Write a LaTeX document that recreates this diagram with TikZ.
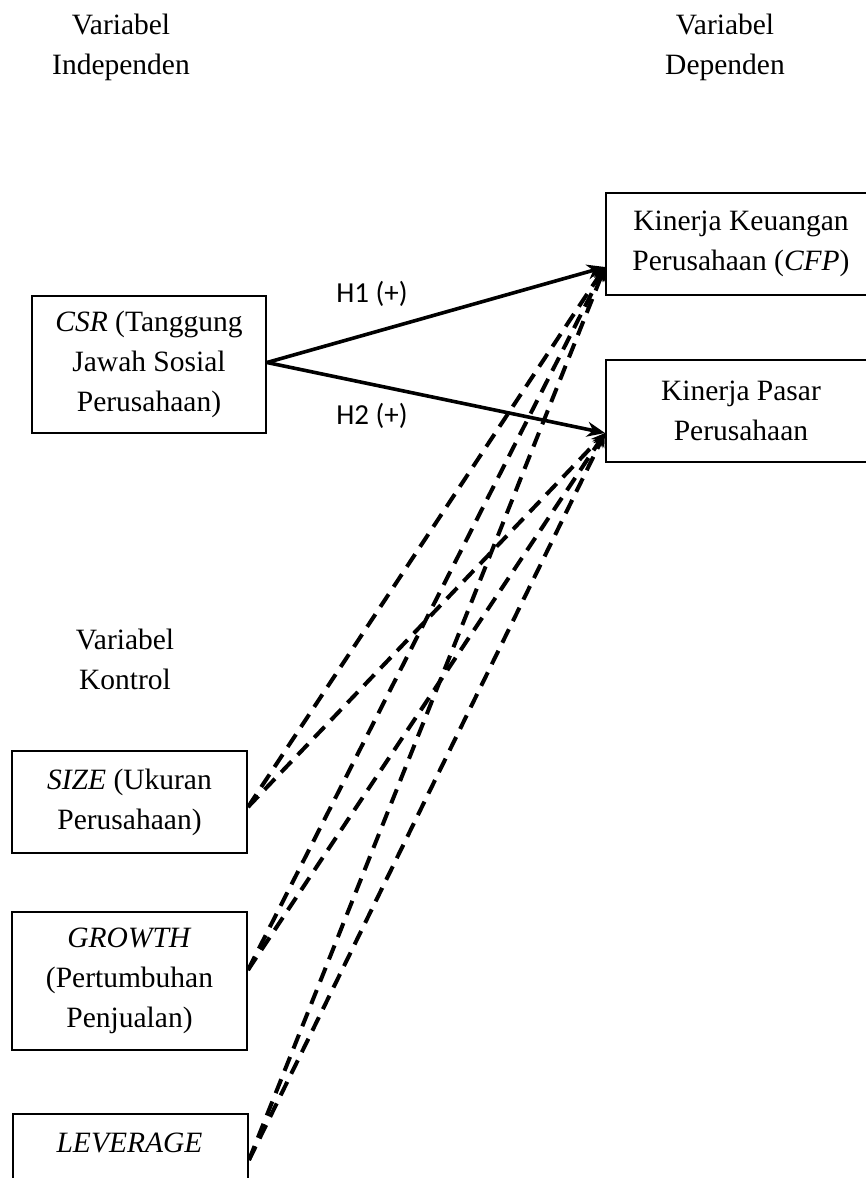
\documentclass[tikz,border=0pt]{standalone}
\usepackage{fontspec}
\setmainfont{Liberation Serif}
\newfontfamily\calibri{Carlito}
\usetikzlibrary{arrows.meta}
\begin{document}
\begin{tikzpicture}[x=1pt,y=-1pt,
  txt/.style={font=\fontsize{29.5}{40}\selectfont, align=center, inner sep=0pt},
  varbox/.style={txt, draw, line width=2pt},
  hlabel/.style={font=\calibri\fontsize{29}{34}\selectfont, inner sep=0pt},
  solidarrow/.style={line width=3.6pt, -{Stealth[length=18pt,width=15pt]}},
  dasharrow/.style={line width=4pt, dash pattern=on 15pt off 9pt, -{Stealth[length=14pt,width=12pt]}}
]
\path[use as bounding box, clip] (0,0) rectangle (866,1178);
\fill[white] (0,0) rectangle (866,1178);

% headers
\node[txt] (hind) at (121,47) {Variabel\\Independen};
\node[txt] (hdep) at (725,47) {Variabel\\Dependen};
\node[txt] (hkon) at (125,659) {Variabel\\Kontrol};

% boxes
\node[varbox, minimum width=234pt, minimum height=137pt] (csr) at (149,364.5)
  {\textit{CSR} (Tanggung\\Jawah Sosial\\Perusahaan)};
\node[varbox, minimum width=270pt, minimum height=102pt] (cfp) at (741,244)
  {Kinerja Keuangan\\Perusahaan (\textit{CFP})};
\node[varbox, minimum width=270pt, minimum height=102pt] (pasar) at (741,411)
  {Kinerja Pasar\\Perusahaan};
\node[varbox, minimum width=235pt, minimum height=102pt] (size) at (129.5,802)
  {\textit{SIZE} (Ukuran\\Perusahaan)};
\node[varbox, minimum width=235pt, minimum height=138pt] (growth) at (129.5,981)
  {\textit{GROWTH}\\(Pertumbuhan\\Penjualan)};
\node[varbox, minimum width=235pt, minimum height=137pt, anchor=north west] (lev) at (12,1113) {};
\node[txt, anchor=base] (levtxt) at (129.5,1152) {\textit{LEVERAGE}};

% connection points
\coordinate (tcfp) at ([yshift=29pt]cfp.south west);
\coordinate (tpas) at ([yshift=30pt]pasar.south west);
\coordinate (ssize) at ([yshift=-5pt]size.east);
\coordinate (sgrow) at ([yshift=11pt]growth.east);
\coordinate (slev) at ([yshift=-47pt]lev.north east);

% hypotheses
\draw[solidarrow] ([yshift=2pt]csr.east) -- (tcfp);
\draw[solidarrow] ([yshift=2pt]csr.east) -- (tpas);
\node[hlabel] (h1) at (372,294) {H1 (+)};
\node[hlabel] (h2) at (372,416) {H2 (+)};

% control variables
\draw[dasharrow] (ssize) -- (tcfp);
\draw[dasharrow] (ssize) -- (tpas);
\draw[dasharrow] (sgrow) -- (tcfp);
\draw[dasharrow] (sgrow) -- (tpas);
\draw[dasharrow] (slev) -- (tcfp);
\draw[dasharrow] (slev) -- (tpas);
\end{tikzpicture}
\end{document}
